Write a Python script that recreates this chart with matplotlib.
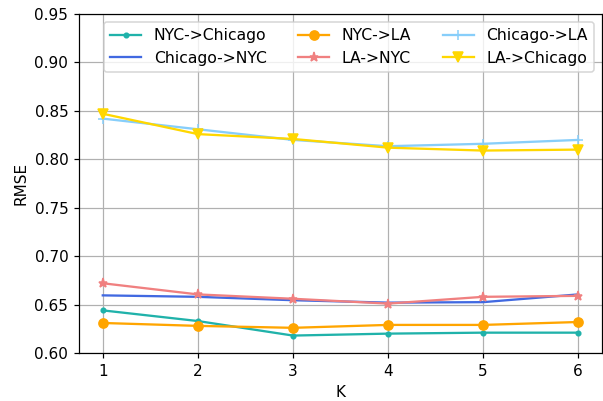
import matplotlib
matplotlib.use('Agg')
import matplotlib.pyplot as plt

k = [1, 2, 3, 4, 5, 6]
nyc_chicago = [0.644, 0.633, 0.618, 0.620, 0.621, 0.621]
chicago_nyc = [0.6595, 0.658, 0.6545, 0.652, 0.6525, 0.6605]
nyc_la = [0.631, 0.628, 0.626, 0.629, 0.629, 0.632]
la_nyc = [0.672, 0.6605, 0.656, 0.651, 0.658, 0.659]
chicago_la = [0.842, 0.831, 0.820, 0.8135, 0.816, 0.820]
la_chicago = [0.847, 0.826, 0.821, 0.812, 0.809, 0.810]

dpi = 110
fig = plt.figure(figsize=(603 / dpi, 401 / dpi), dpi=dpi)
ax = fig.add_axes([79 / 603, 1 - 353 / 401, 523 / 603, 339 / 401])
ax.plot(k, nyc_chicago, marker='.', color='lightseagreen', label='NYC->Chicago')
ax.plot(k, chicago_nyc, color='royalblue', label='Chicago->NYC')
ax.plot(k, nyc_la, marker='o', color='orange', label='NYC->LA')
ax.plot(k, la_nyc, marker='*', color='lightcoral', label='LA->NYC')
ax.plot(k, chicago_la, marker='+', color='lightskyblue', label='Chicago->LA')
ax.plot(k, la_chicago, marker='v', color='gold', label='LA->Chicago')

ax.set_ylim(0.60, 0.95)
ax.set_xlabel('K')
ax.set_ylabel('RMSE')
ax.grid(True)
ax.legend(ncol=3, loc='upper right', fontsize=10.25)
fig.savefig('out.png', dpi=dpi)
